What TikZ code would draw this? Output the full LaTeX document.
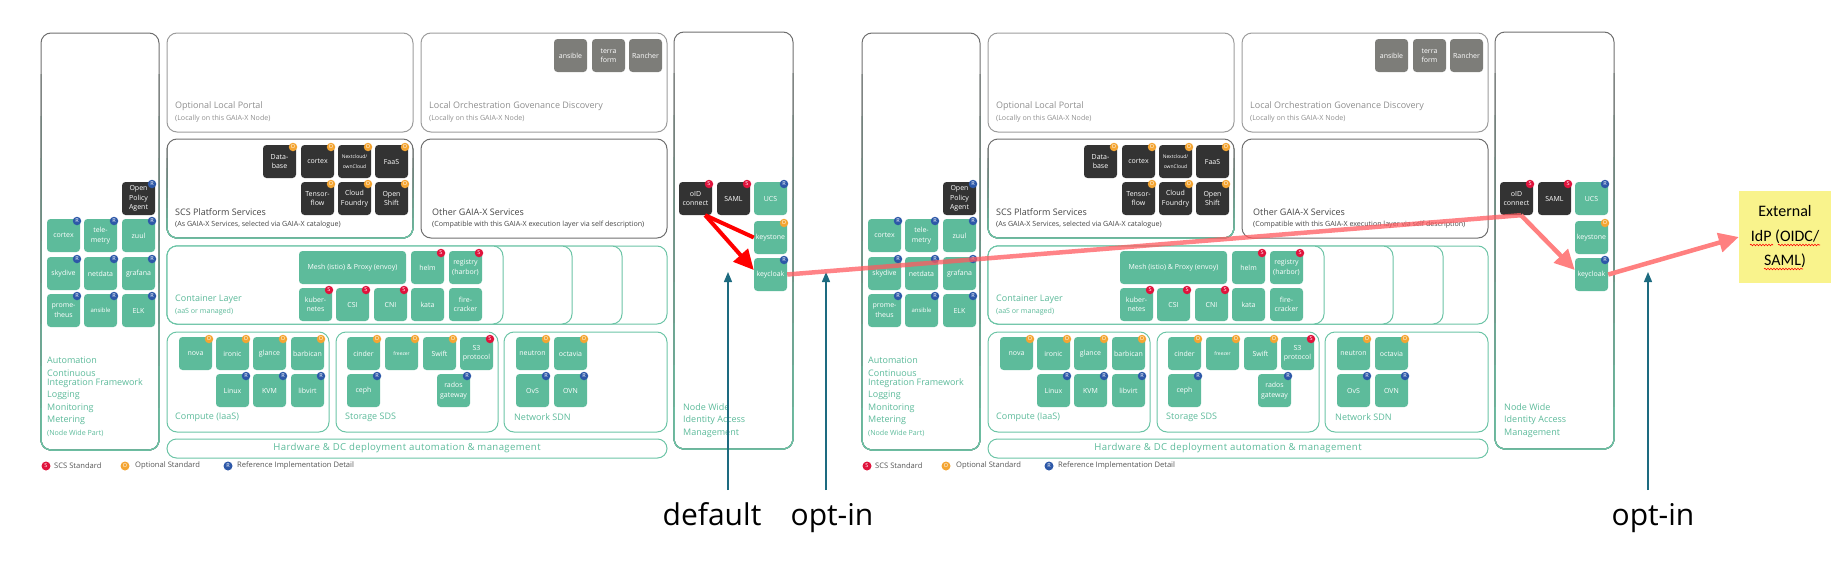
\documentclass[tikz,border=0pt]{standalone}
\usepackage{fontspec}
\setmainfont{Open Sans}
\newfontfamily\calibfont{Carlito}
\newfontfamily\spacedfont[LetterSpace=4]{Open Sans}
\usetikzlibrary{arrows.meta,decorations.pathmorphing}
\definecolor{gfill}{HTML}{5DBB9B}
\definecolor{gline}{HTML}{6CC4A6}
\definecolor{gtext}{HTML}{5CBA9A}
\definecolor{dkfill}{HTML}{333333}
\definecolor{gyfill}{HTML}{7D7D79}
\definecolor{fgray}{HTML}{6E6E6E}
\definecolor{flight}{HTML}{9C9C9C}
\definecolor{tgray}{HTML}{8E8E8E}
\definecolor{tdark}{HTML}{444444}
\definecolor{legtext}{HTML}{555555}
\definecolor{bred}{HTML}{E0133C}
\definecolor{borange}{HTML}{F4A532}
\definecolor{bblue}{HTML}{2D58A8}
\definecolor{arrteal}{HTML}{1D6B80}
\definecolor{pinkred}{HTML}{FF8080}
\definecolor{pinkline}{HTML}{FF5A5F}
\definecolor{idpyellow}{HTML}{F9F38C}
\tikzset{
 frm/.style={line width=1pt, rounded corners=10pt},
 sbox/.style={rounded corners=3.5pt, inner sep=0pt, align=center, text=white, font=\fontsize{7}{9.5}\selectfont, minimum height=33pt},
 gr/.style={sbox, fill=gfill},
 dk/.style={sbox, fill=dkfill},
 gy/.style={sbox, fill=gyfill},
 bdg/.style={circle, inner sep=0pt, minimum size=8.5pt, text=white, font=\fontsize{5.5}{5.5}\selectfont},
 bdgS/.style={bdg, fill=bred},
 bdgO/.style={bdg, fill=borange},
 bdgR/.style={bdg, fill=bblue},
 ttl/.style={anchor=west, inner sep=0pt, font=\fontsize{9}{11}\selectfont},
 sub/.style={anchor=west, inner sep=0pt, font=\fontsize{7.1}{8}\selectfont},
 gt/.style={ttl, text=gtext},
 leg/.style={anchor=west, inner sep=0pt, text=legtext, font=\fontsize{7.6}{8}\selectfont},
 lbl/.style={font=\fontsize{30}{36}\selectfont, inner sep=0pt, anchor=base},
 tarrow/.style={draw=arrteal, line width=1.3pt, -{Triangle[length=10pt,width=8pt]}},
 redarr/.style={draw=red, line width=4pt},
 pinkarr/.style={draw=pinkred, line width=4.5pt},
 pinklong/.style={draw=pinkline, draw opacity=0.75, line width=4.5pt},
 bighead/.style={-{Triangle[length=20pt,width=19pt]}},
 squig/.style={draw=red, line width=0.6pt, decorate, decoration={snake, amplitude=0.8pt, segment length=3pt}},
}
\newcommand\mybadge[3]{\ifx N#3\else\node[bdg#3] at ({#1},{#2}) {#3};\fi}
\newcommand\bx[7][33]{%
  \node[#5, minimum width=#1pt] (\pp#2) at ({#3+#1/2},{#4+16.5}) {#6};
  \mybadge{#3+#1-3}{#4+2}{#7}}
\newcommand\gfrm[4]{%
  \draw[frm, draw=fgray] (#1,#2) rectangle (#3,#4);
  \foreach \k in {1,...,9}{%
    \pgfmathsetmacro\yc{#2+(#4-#2)*\k/10}%
    \pgfmathtruncatemacro\mx{\k*11}%
    \begin{scope}
      \clip (#1-5,\yc) rectangle (#3+5,#4+5);
      \draw[frm, draw=gline!\mx!fgray] (#1,#2) rectangle (#3,#4);
    \end{scope}
  }}
\begin{document}
\begin{tikzpicture}[x=1pt,y=-1pt]
\useasboundingbox (0,0) rectangle (1848,570);
\foreach \pp/\sx in {L/0,R/821}{
\begin{scope}[shift={(\sx,0)}]
 % frames
 \gfrm{41}{33}{159}{450}
 \draw[frm, draw=flight] (167,33) rectangle (413,132);
 \draw[frm, draw=flight] (421,33) rectangle (667,132);
 \gfrm{167}{139}{413}{238}
 \draw[frm, draw=fgray] (421,139) rectangle (667,238);
 \gfrm{674}{32}{793}{449}
 \foreach \r in {667,622,572,503}{\draw[frm, draw=gline, fill=white] (167,246) rectangle (\r,324);}
 \draw[frm, draw=gline] (167,332) rectangle (329,432);
 \draw[frm, draw=gline] (336,332) rectangle (498,432);
 \draw[frm, draw=gline] (504,332) rectangle (667,432);
 \draw[line width=1pt, draw=gline, rounded corners=9.5pt] (167,439) rectangle (667,458);
 % titles
 \node[ttl, text=tgray] (\pp tportal) at (175,106) {Optional Local Portal};
 \node[sub, text=tgray] (\pp sportal) at (175,119) {(Locally on this GAIA-X Node)};
 \node[ttl, text=tgray] (\pp torch) at (429,106) {Local Orchestration Govenance Discovery};
 \node[sub, text=tgray] (\pp sorch) at (429,119) {(Locally on this GAIA-X Node)};
 \node[ttl, text=tdark] (\pp tscs) at (175,212) {SCS Platform Services};
 \node[sub, text=tdark] (\pp sscs) at (175,225) {(As GAIA-X Services, selected via GAIA-X catalogue)};
 \node[ttl, text=tdark] (\pp tother) at (432,212) {Other GAIA-X Services};
 \node[sub, text=tdark] (\pp sother) at (432,225) {(Compatible with this GAIA-X execution layer via self description)};
 \node[gt] (\pp tcont) at (175,299) {Container Layer};
 \node[sub, text=gtext] (\pp scont) at (175,312) {(aaS or managed)};
 \node[gt] (\pp tcomp) at (175,417) {Compute (IaaS)};
 \node[gt] (\pp tstor) at (345,417) {Storage SDS};
 \node[gt] (\pp tnet) at (514,417) {Network SDN};
 \node[gt, anchor=center, font=\spacedfont\fontsize{9.6}{11}\selectfont] (\pp thw) at (407,448.5) {Hardware \& DC deployment automation \& management};
 \node[gt] (\pp nw1) at (683,407) {Node Wide};
 \node[gt] (\pp nw2) at (683,420) {Identity Access};
 \node[gt] (\pp nw3) at (683,433) {Management};
 \node[gt] (\pp au1) at (47,360) {Automation};
 \node[gt] (\pp au2) at (47,373) {Continuous};
 \node[gt] (\pp au3) at (47,383) {Integration Framework};
 \node[gt] (\pp au4) at (47,395.5) {Logging};
 \node[gt] (\pp au5) at (47,408) {Monitoring};
 \node[gt] (\pp au6) at (47,420.5) {Metering};
 \node[sub, text=gtext] (\pp au7) at (47,433) {(Node Wide Part)};
 % legend
 \node[bdgS, minimum size=9pt] (\pp lgS) at (46,466) {S};
 \node[leg] (\pp lgSt) at (54,466) {SCS Standard};
 \node[bdgO, minimum size=9pt] (\pp lgO) at (125,466) {O};
 \node[leg] (\pp lgOt) at (135,466) {Optional Standard};
 \node[bdgR, minimum size=9pt] (\pp lgR) at (228,466) {R};
 \node[leg] (\pp lgRt) at (237,466) {Reference Implementation Detail};
 % automation column
 \bx{opa}{122}{182}{dk}{Open\\Policy\\Agent}{R}
 \bx{acortex}{47}{219}{gr}{cortex}{R}
 \bx{tele}{84}{219}{gr}{tele-\\metry}{R}
 \bx{zuul}{122}{219}{gr}{zuul}{R}
 \bx{skydive}{47}{257}{gr}{skydive}{R}
 \bx{netdata}{84}{257}{gr}{netdata}{R}
 \bx{grafana}{122}{257}{gr}{grafana}{R}
 \bx{prom}{47}{294}{gr}{prome-\\theus}{R}
 \bx{aansible}{84}{294}{gr, font=\fontsize{6}{8}\selectfont}{ansible}{R}
 \bx{elk}{122}{294}{gr}{ELK}{R}
 % platform services
 \bx{db}{263}{145}{dk}{Data-\\base}{O}
 \bx{pcortex}{301}{145}{dk}{cortex}{O}
 \bx{next}{338}{145}{dk, font=\fontsize{5}{10}\selectfont}{Nextcloud/\\ownCloud}{O}
 \bx{faas}{375}{145}{dk}{FaaS}{O}
 \bx{tf}{301}{182}{dk}{Tensor-\\flow}{O}
 \bx{cf}{338}{182}{dk}{Cloud\\Foundry}{O}
 \bx{os}{375}{182}{dk}{Open\\Shift}{O}
 % orchestration
 \bx{oans}{554}{39}{gy}{ansible}{N}
 \bx{terra}{592}{39}{gy}{terra\\form}{N}
 \bx{rancher}{629}{39}{gy}{Rancher}{N}
 % identity
 \bx{oid}{679}{182}{dk}{oID\\connect}{S}
 \bx{saml}{717}{182}{dk}{SAML}{S}
 \bx{ucs}{754}{182}{gr}{UCS}{R}
 \bx{keystone}{754}{221}{gr}{keystone}{O}
 \bx{keycloak}{754}{258}{gr}{keycloak}{R}
 % container layer
 \bx[107]{mesh}{299}{251}{gr}{Mesh (istio) \& Proxy (envoy)}{N}
 \bx{helm}{411}{251}{gr}{helm}{S}
 \bx{registry}{449}{251}{gr}{registry\\(harbor)}{S}
 \bx{kube}{299}{288}{gr}{kuber-\\netes}{S}
 \bx{csi}{336}{288}{gr}{CSI}{S}
 \bx{cni}{374}{288}{gr}{CNI}{S}
 \bx{kata}{411}{288}{gr}{kata}{N}
 \bx{fire}{449}{288}{gr}{fire-\\cracker}{N}
 % compute
 \bx{nova}{179}{337}{gr}{nova}{O}
 \bx{ironic}{216}{337}{gr}{ironic}{O}
 \bx{glance}{253}{337}{gr}{glance}{O}
 \bx{barbican}{291}{337}{gr}{barbican}{O}
 \bx{linux}{216}{374}{gr}{Linux}{R}
 \bx{kvm}{253}{374}{gr}{KVM}{R}
 \bx{libvirt}{291}{374}{gr}{libvirt}{R}
 % storage
 \bx{cinder}{347}{337}{gr}{cinder}{O}
 \bx{freezer}{385}{337}{gr, font=\fontsize{5}{6}\selectfont}{freezer}{O}
 \bx{swift}{423}{337}{gr}{Swift}{O}
 \bx{s3}{460}{337}{gr}{S3\\protocol}{S}
 \bx{ceph}{347}{374}{gr}{ceph}{R}
 \bx{rados}{437}{374}{gr}{rados\\gateway}{R}
 % network
 \bx{neutron}{516}{337}{gr}{neutron}{O}
 \bx{octavia}{554}{337}{gr}{octavia}{O}
 \bx{ovs}{516}{374}{gr}{OvS}{R}
 \bx{ovn}{554}{374}{gr}{OVN}{R}
\end{scope}
}
% labels and teal arrows
\node[lbl] (default) at (712,525) {default};
\node[lbl] (optin1) at (832,525) {opt-in};
\node[lbl] (optin2) at (1653,525) {opt-in};
\coordinate (a1s) at (728,490); \coordinate (a1t) at (728,272);
\coordinate (a2s) at (826,490); \coordinate (a2t) at (826,272);
\coordinate (a3s) at (1648,490); \coordinate (a3t) at (1648,272);
\draw[tarrow] (a1s) -- (a1t);
\draw[tarrow] (a2s) -- (a2t);
\draw[tarrow] (a3s) -- (a3t);
% external IdP
\node[fill=idpyellow, minimum width=92pt, minimum height=92pt, inner sep=0pt, align=center, font=\calibfont\fontsize{16}{24.5}\selectfont] (idp) at (1785,237) {External\\IdP (OIDC/\\SAML)};
\draw[squig] (1750,245) -- (1773,245);
\draw[squig] (1778,245) -- (1820,245);
\draw[squig] (1764,269) -- (1803,269);
% red arrows (left panel)
\draw[redarr] (Loid.-60) -- (Lkeystone.west);
\draw[redarr, bighead] (Loid.-60) -- (Lkeycloak.165);
% pink connections
\draw[pinklong] (Lkeycloak.east) -- (Roid.-75);
\draw[pinkarr, bighead] (Roid.-75) -- (Rkeycloak.165);
\draw[pinkarr, bighead] (Rkeycloak.east) -- (idp.west);
\end{tikzpicture}
\end{document}
